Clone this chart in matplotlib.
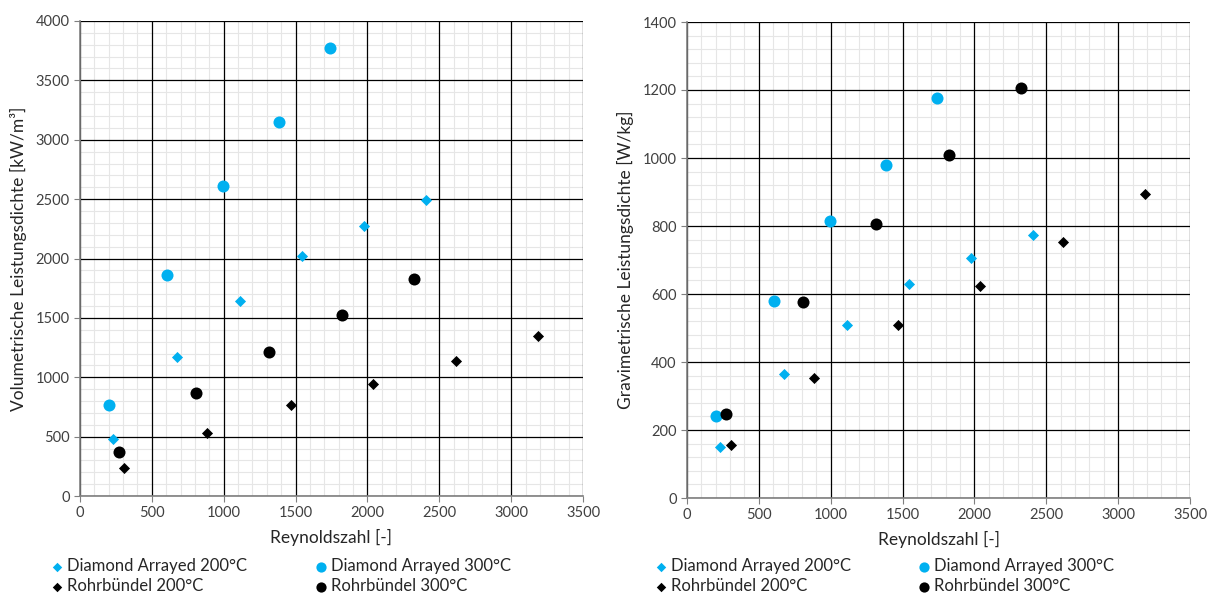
import matplotlib
matplotlib.use("Agg")
import matplotlib.pyplot as plt
import numpy as np
from matplotlib.ticker import MultipleLocator

plt.rcParams['font.family'] = ['Lato', 'DejaVu Sans']

CYAN = '#00B0F0'
BLACK = '#000000'

# Reynolds numbers
re_da200 = [230, 675, 1113, 1545, 1977, 2408]
re_da300 = [202, 605, 995, 1385, 1740]
re_rb200 = [306, 884, 1468, 2039, 2616, 3187]
re_rb300 = [271, 807, 1315, 1823, 2324]

# Volumetric power density [kW/m³]
vol_da200 = [480, 1170, 1640, 2020, 2270, 2490]
vol_da300 = [770, 1860, 2610, 3150, 3770]
vol_rb200 = [235, 530, 765, 943, 1135, 1347]
vol_rb300 = [370, 867, 1213, 1524, 1827]

# Gravimetric power density [W/kg]
grav_da200 = [150, 365, 510, 630, 707, 773]
grav_da300 = [242, 580, 815, 980, 1175]
grav_rb200 = [157, 353, 508, 623, 752, 893]
grav_rb300 = [246, 576, 805, 1010, 1205]

labels = ['Diamond Arrayed 200°C', 'Diamond Arrayed 300°C',
          'Rohrbündel 200°C', 'Rohrbündel 300°C']

fig = plt.figure(figsize=(12.08, 5.95), dpi=100)
ax1 = fig.add_axes([80/1208, 1-496/595, 503/1208, 475/595])
ax2 = fig.add_axes([687/1208, 1-498/595, 503/1208, 476/595])


def style(ax, ymax, ymaj, ymin, ylabel):
    ax.set_xlim(0, 3500)
    ax.set_ylim(0, ymax)
    ax.xaxis.set_major_locator(MultipleLocator(500))
    ax.yaxis.set_major_locator(MultipleLocator(ymaj))
    # minor grid drawn beneath the major grid
    for xv in np.arange(100, 3500, 100):
        if xv % 500:
            ax.axvline(xv, color='#e6e6e6', linewidth=0.8, zorder=0.2)
    for yv in np.arange(ymin, ymax, ymin):
        if round(yv) % ymaj:
            ax.axhline(yv, color='#e6e6e6', linewidth=0.8, zorder=0.2)
    ax.grid(which='major', color='#000000', linewidth=0.9)
    ax.set_axisbelow(True)
    for s in ['top', 'right']:
        ax.spines[s].set_visible(False)
    for s in ['left', 'bottom']:
        ax.spines[s].set_color('#7f7f7f')
        ax.spines[s].set_linewidth(1.2)
        ax.spines[s].set_zorder(2)
    ax.tick_params(which='major', length=4, color='#7f7f7f', labelsize=10.5,
                   labelcolor='#404040')
    ax.set_xlabel('Reynoldszahl [-]', fontsize=12.5, color='#262626', labelpad=6)
    ax.set_ylabel(ylabel, fontsize=12.5, color='#262626', labelpad=6)


def plot(ax, ya, yb, yc, yd):
    h1 = ax.scatter(re_da200, ya, marker='D', s=32, color=CYAN, zorder=3, linewidths=0)
    h2 = ax.scatter(re_da300, yb, marker='o', s=75, color=CYAN, zorder=3, linewidths=0)
    h3 = ax.scatter(re_rb200, yc, marker='D', s=32, color=BLACK, zorder=3, linewidths=0)
    h4 = ax.scatter(re_rb300, yd, marker='o', s=75, color=BLACK, zorder=3, linewidths=0)
    return [h1, h2, h3, h4]


hs1 = plot(ax1, vol_da200, vol_da300, vol_rb200, vol_rb300)
hs2 = plot(ax2, grav_da200, grav_da300, grav_rb200, grav_rb300)
style(ax1, 4000, 500, 100, 'Volumetrische Leistungsdichte [kW/m³]')
style(ax2, 1400, 200, 40, 'Gravimetrische Leistungsdichte [W/kg]')

# legend entries: (column x in px, row y in px)
col_x = [(47, 311), (651, 914)]
row_y = [566, 586]
for hs, cx in [(hs1, col_x[0]), (hs2, col_x[1])]:
    for i, (h, lab) in enumerate(zip(hs, labels)):
        x = cx[i % 2]
        y = row_y[i // 2]
        fig.legend([h], [lab], loc='center left',
                   bbox_to_anchor=(x/1208, 1-y/595),
                   frameon=False, fontsize=12,
                   handletextpad=0.0, borderaxespad=0, borderpad=0,
                   handlelength=1.2, labelcolor='#262626', markerscale=0.85)

fig.savefig('out.png', dpi=100)
